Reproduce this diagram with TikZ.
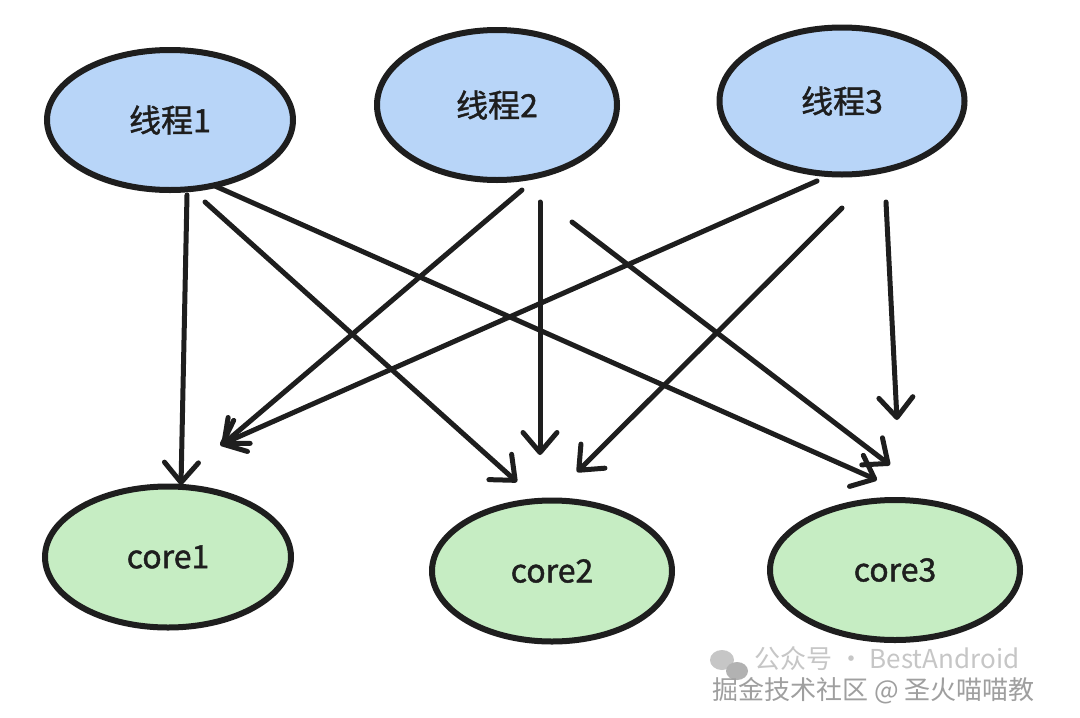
\documentclass[tikz,border=0pt]{standalone}
\usepackage{fontspec}
\setmainfont{Noto Sans CJK SC}
\newfontfamily\lblfont[FakeBold=1.3]{Noto Sans CJK SC}
\usetikzlibrary{shapes.geometric,arrows.meta,calc}
\definecolor{ink}{HTML}{1E1E1E}
\definecolor{thr}{HTML}{B8D5F8}
\definecolor{cor}{HTML}{C6EDC3}
\tikzset{
  thread/.style={ellipse,draw=ink,fill=thr,line width=6pt,inner sep=0pt,font=\lblfont\fontsize{32}{34}\selectfont,text=ink},
  corebox/.style={ellipse,draw=ink,fill=cor,line width=6pt,inner sep=0pt,font=\lblfont\fontsize{32}{34}\selectfont,text=ink},
  arr/.style={draw=ink,line width=5pt,line cap=round,line join=round,-{Straight Barb[length=20pt,width=34pt,line width=5pt,round]}},
  wm/.style={font=\fontsize{26}{28}\selectfont,inner sep=0pt,anchor=west}
}
\begin{document}
\begin{tikzpicture}[x=1pt,y=-1pt]
\useasboundingbox[fill=white] (0,0) rectangle (1080,718);
\node[thread,minimum width=246pt,minimum height=140pt] (t1) at (170,120) {线程1};
\node[thread,minimum width=240pt,minimum height=150pt] (t2) at (497,105) {线程2};
\node[thread,minimum width=245pt,minimum height=147pt] (t3) at (842,101) {线程3};
\node[corebox,minimum width=246pt,minimum height=141pt] (c1) at (168,557) {core1};
\node[corebox,minimum width=240pt,minimum height=141pt] (c2) at (552,571) {core2};
\node[corebox,minimum width=250pt,minimum height=140pt] (c3) at (895,570) {core3};
% connectors
\draw[arr] ($(t1)+(17,75)$) -- ($(c1)+(13,-72)$);
\draw[arr] ($(t1)+(35,82)$) -- ($(c2)+(-35,-89)$);
\draw[arr] ($(t1)+(45,66)$) -- ($(c3)+(-18,-90)$);
\draw[arr] ($(t2)+(25,85)$) -- ($(c1)+(54,-112)$);
\draw[arr] ($(t2)+(43,97)$) -- ($(c2)+(-12,-116)$);
\draw[arr] ($(t2)+(75,117)$) -- ($(c3)+(-5,-105)$);
\draw[arr] ($(t3)+(-25,80)$) -- ($(c1)+(52,-112)$);
\draw[arr] ($(t3)+(0,107)$) -- ($(c2)+(25,-99)$);
\draw[arr] ($(t3)+(44,101)$) -- ($(c3)+(2,-150)$);
% watermark
\fill[gray!45] (722,660) ellipse (12pt and 10pt);
\fill[gray!60] (737,671) ellipse (11pt and 9pt);
\node[wm,text=gray!45] (w1) at (754,659) {公众号 · BestAndroid};
\node[wm,text=gray!75] (w2) at (712,691) {掘金技术社区 @ 圣火喵喵教};
\end{tikzpicture}
\end{document}
